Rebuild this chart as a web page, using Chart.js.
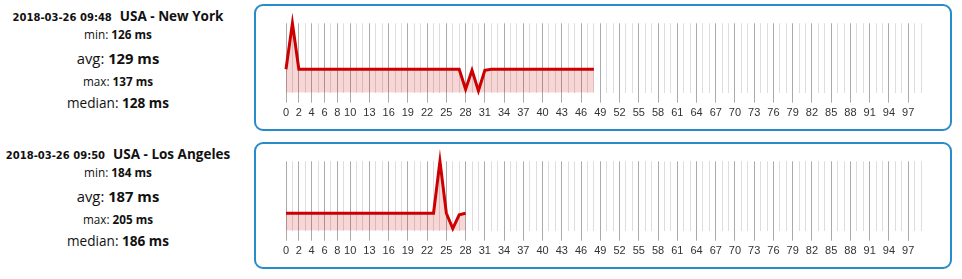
<!DOCTYPE html>
<html>
<head>
<meta charset="utf-8">
<script src="https://cdn.jsdelivr.net/npm/chart.js@4.4.1/dist/chart.umd.min.js"></script>
<style>
  body { margin: 0; background: #fff; font-family: "Open Sans", sans-serif; color: #111; width: 962px; height: 279px; position: relative; overflow: hidden; }
  .row { position: absolute; left: 0; width: 962px; height: 138px; }
  .line { position: absolute; left: 0; width: 236px; text-align: center; white-space: nowrap; line-height: 20px; }
  .title { top: 5px; font-weight: bold; }
  .title .date { font-family: "DejaVu Sans", sans-serif; font-size: 10px; margin-right: 8px; }
  .title .place { font-size: 13.5px; }
  .min { top: 24px; font-size: 11.75px; }
  .avg { top: 48px; font-size: 14.8px; }
  .max { top: 71px; font-size: 11.7px; }
  .median { top: 93px; font-size: 13.6px; }
  .box { position: absolute; left: 254px; top: 4px; width: 694px; height: 123px; border: 2px solid #2a8bcb; border-radius: 9px; }
  canvas { display: block; }
</style>
</head>
<body>
<div class="row" style="top:0">
  <div class="line title"><span class="date">2018-03-26 09:48</span><span class="place">USA - New York</span></div>
  <div class="line min">min: <b>126 ms</b></div>
  <div class="line avg">avg: <b>129 ms</b></div>
  <div class="line max">max: <b>137 ms</b></div>
  <div class="line median">median: <b>128 ms</b></div>
  <div class="box"><canvas id="chartNY" width="694" height="123"></canvas></div>
</div>
<div class="row" style="top:138px">
  <div class="line title"><span class="date">2018-03-26 09:50</span><span class="place">USA - Los Angeles</span></div>
  <div class="line min">min: <b>184 ms</b></div>
  <div class="line avg">avg: <b>187 ms</b></div>
  <div class="line max">max: <b>205 ms</b></div>
  <div class="line median">median: <b>186 ms</b></div>
  <div class="box"><canvas id="chartLA" width="694" height="123"></canvas></div>
</div>
<script>
// x categories: ping number 0..99
const labels = [];
for (let i = 0; i < 100; i++) labels.push(String(i));

// ticks that get a label (and a darker grid line)
const shownTicks = [0, 2, 4, 6, 8, 10, 13, 16, 19, 22, 25, 28, 31, 34, 37, 40, 43, 46, 49,
  52, 55, 58, 61, 64, 67, 70, 73, 76, 79, 82, 85, 88, 91, 94, 97];

// ms values
const nyValues = [128, 137,
  128, 128, 128, 128, 128, 128, 128, 128, 128, 128, 128, 128, 128,
  128, 128, 128, 128, 128, 128, 128, 128, 128, 128, 128, 128, 128,
  124.1, 127.8, 123.8, 127.8,
  128, 128, 128, 128, 128, 128, 128, 128, 128, 128, 128, 128, 128, 128, 128, 128, 128];

const laValues = [186, 186, 186, 186, 186, 186, 186, 186, 186, 186,
  186, 186, 186, 186, 186, 186, 186, 186, 186, 186,
  186, 186, 186, 186,
  205, 186, 180.4, 185.4, 186];

const isShown = (i) => shownTicks.includes(i);

const makeChart = (id, values, yMin, yMax) => {
  return new Chart(document.getElementById(id), {
    type: "line",
    data: {
      labels: labels,
      datasets: [
        {
          data: values,
          borderColor: "#cc0000",
          backgroundColor: "rgba(204, 0, 0, 0.16)",
          borderWidth: 3,
          fill: "start",
          pointRadius: 0,
          tension: 0,
          clip: false,
        },
      ],
    },
    options: {
      responsive: false,
      animation: false,
      events: [],
      layout: { padding: { left: 30, right: 29, top: 17.3, bottom: 5.1 } },
      plugins: { legend: { display: false }, tooltip: { enabled: false } },
      scales: {
        y: { display: false, min: yMin, max: yMax },
        x: {
          offset: false,
          border: { display: false },
          grid: {
            color: (c) => (isShown(c.index) ? "#aaa" : "#ddd"),
            tickColor: (c) => (isShown(c.index) ? "#aaa" : "rgba(0,0,0,0)"),
            tickLength: 10,
          },
          ticks: {
            autoSkip: false,
            maxRotation: 0,
            padding: 4,
            color: "#333",
            font: { family: "'Liberation Sans', Arial, sans-serif", size: 11 },
            callback: (v, i) => (isShown(i) ? labels[i] : ""),
          },
        },
      },
    },
  });
};

makeChart("chartNY", nyValues, 123.4, 137);
makeChart("chartLA", laValues, 179.6, 205);
</script>
</body>
</html>
